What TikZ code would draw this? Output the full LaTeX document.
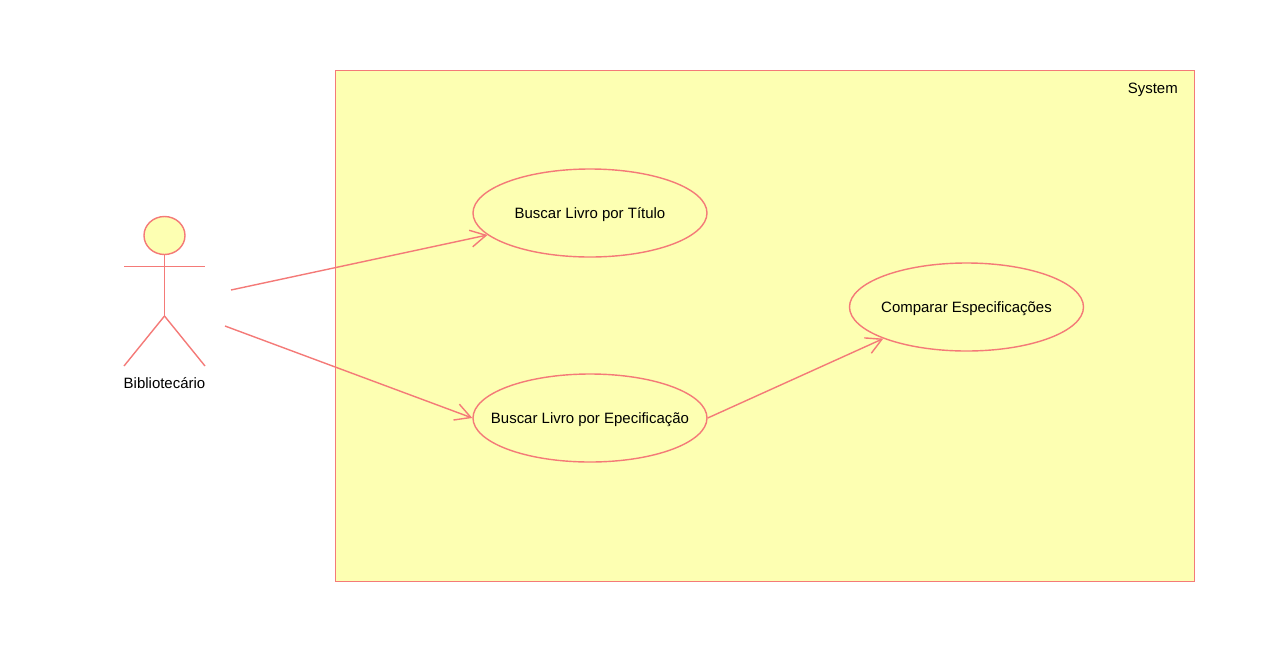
\documentclass[tikz,border=0pt]{standalone}
\usepackage{fontspec}
\setmainfont{Liberation Sans}
\usetikzlibrary{positioning, shapes.geometric, arrows.meta}

\definecolor{umlline}{HTML}{F47A78}
\definecolor{umlfill}{HTML}{FDFFB2}

\tikzset{
    usecase/.style={draw=umlline, fill=umlfill, ellipse, line width=1pt, minimum width=234*0.025cm, minimum height=88*0.025cm, inner xsep=-20pt, inner ysep=0pt, text height=10.9pt, text depth=2.5pt, font=\fontsize{10.65}{12}\selectfont},
    assoc/.style={draw=umlline, line width=1pt, -{Straight Barb[length=11pt, width=12pt, line width=1pt]}},
    stick/.style={draw=umlline, line width=1pt},
    caption/.style={inner sep=0pt, text height=10.9pt, text depth=2.5pt, font=\fontsize{10.65}{12}\selectfont}
}

\begin{document}
\begin{tikzpicture}[x=0.025cm, y=-0.025cm]

\useasboundingbox (0,0) rectangle (1285,667);

\draw[stick, fill=umlfill] (335.5,70.5) rectangle (1194.5,581.5);
\node[caption, anchor=east] (system) at (1178,88) {System};

\node[usecase] (titulo) at (590,213) {Buscar Livro por Título};
\node[usecase] (especificacao) at (590,418) {Buscar Livro por Epecificação};
\node[usecase] (comparar) at (966.5,307) {Comparar Especificações};

% ator
\node[stick, fill=umlfill, ellipse, minimum width=41*0.025cm, minimum height=38*0.025cm, inner sep=0pt] (head) at (164.5,235.5) {};
\coordinate (hip) at (164.5,316);
\coordinate (armL) at (124,266.5);
\coordinate (armR) at (205,266.5);
\coordinate (legL) at (124,366);
\coordinate (legR) at (205,366);
\draw[stick] (head.south) -- (hip);
\draw[stick] (armL) -- (armR);
\draw[stick] (legL) -- (hip) -- (legR);
\node[caption] (ator) at (164.5,383) {Bibliotecário};

\coordinate (actorA) at (231,290);
\coordinate (actorB) at (225,326);
\draw[assoc] (actorA) -- (titulo);
\draw[assoc] (actorB) -- (especificacao.west);
\draw[assoc] (especificacao.east) -- (comparar.south west);

\end{tikzpicture}
\end{document}
